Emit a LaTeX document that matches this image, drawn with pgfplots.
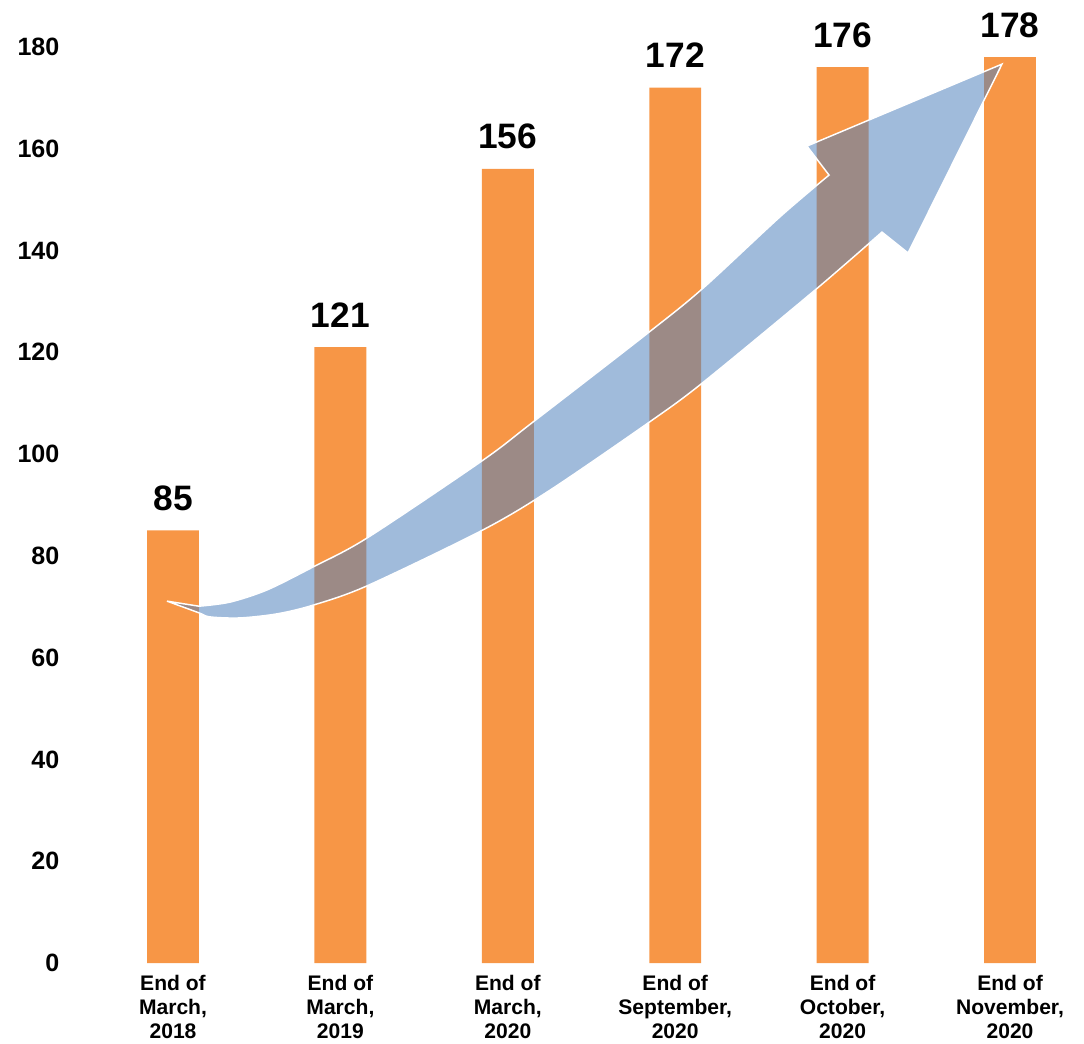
\documentclass[border=0pt]{standalone}
\usepackage{fontspec}
\setmainfont{Liberation Sans}
\usepackage{pgfplots}
\pgfplotsset{compat=1.18}
\definecolor{barorange}{HTML}{F79646}
\definecolor{arrowblue}{HTML}{4F81BD}
\begin{document}
\begin{tikzpicture}
\begin{axis}[
  scale only axis,
  width=761.96pt, height=687.15pt,
  xmin=-0.627, xmax=5.442,
  ymin=0, ymax=180,
  clip=false,
  axis line style={draw=none},
  tick style={draw=none},
  ytick={0,20,...,180},
  xtick=data,
  xticklabels={{End of\\March,\\2018},{End of\\March,\\2019},{End of\\March,\\2020},
               {End of\\September,\\2020},{End of\\October,\\2020},{End of\\November,\\2020}},
  /pgf/number format/assume math mode=true,
  yticklabel style={font=\fontsize{18.8}{20}\selectfont\bfseries, xshift=-3pt},
  xticklabel style={font=\fontsize{15.8}{18.3}\selectfont\bfseries, align=center, yshift=-1pt},
  ybar, bar width=0.31,
  nodes near coords,
  every node near coord/.append style={font=\fontsize{26.5}{28}\selectfont\bfseries,
     anchor=base, yshift=15pt},
]
\addplot[fill=barorange, draw=none] coordinates {
  (0,85) (1,121) (2,156) (3,172) (4,176) (5,178)
};
% curved growth arrow laid over the bars
\filldraw[fill=arrowblue, fill opacity=0.54, draw=white, line width=1.1pt, line join=miter]
  plot[smooth, tension=0.5] coordinates {
    (axis cs:-0.036,71.1) (axis cs:0.155,68.8) (axis cs:0.221,68.0) (axis cs:0.400,67.8)
    (axis cs:0.621,68.6) (axis cs:0.836,70.3) (axis cs:1.159,74.1) (axis cs:1.852,85.1)
    (axis cs:2.252,92.9) (axis cs:2.838,106.1) (axis cs:3.160,113.9) (axis cs:3.835,132.2)
    (axis cs:4.235,143.6)}
  -- (axis cs:4.391,139.5) -- (axis cs:4.952,176.6) -- (axis cs:3.787,160.5)
  -- plot[smooth, tension=0.5] coordinates {
    (axis cs:3.919,154.8) (axis cs:3.626,146.6) (axis cs:3.160,132.4) (axis cs:2.838,123.8)
    (axis cs:2.151,106.3) (axis cs:1.852,98.8) (axis cs:1.159,83.5) (axis cs:0.836,77.8)
    (axis cs:0.562,73.3) (axis cs:0.340,70.9) (axis cs:0.155,70.1)}
  -- cycle;
\coordinate (bbl) at (axis cs:-1.0335,-15.72);
\coordinate (bbu) at (axis cs:5.442,189.2);
\end{axis}
\pgfresetboundingbox
\useasboundingbox (bbl) rectangle (bbu);
\end{tikzpicture}
\end{document}
